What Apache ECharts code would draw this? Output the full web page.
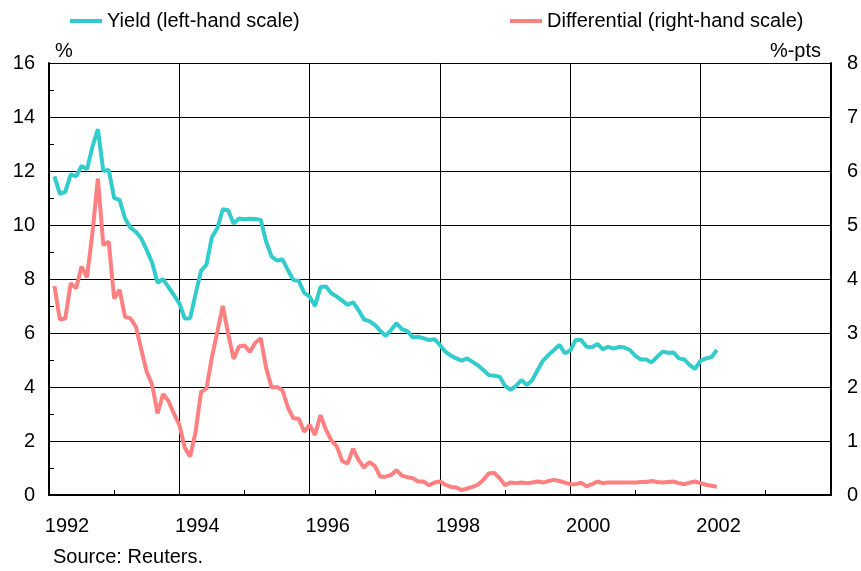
<!DOCTYPE html>
<html>
<head>
<meta charset="utf-8">
<script src="https://cdn.jsdelivr.net/npm/echarts@6/dist/echarts.min.js"></script>
<style>
html,body{margin:0;padding:0;background:#fff;}
#chart{width:861px;height:571px;}
</style>
</head>
<body>
<div id="chart"></div>
<script>
// Monthly (end-of-month) observations, Jan 1992 .. Mar 2002
const startYear = 1992;
const startMonth = 1;
const yieldValues = [
  11.8, 11.15, 11.23, 11.88, 11.8, 12.19, 12.06, 12.9, 13.55, 12.0, 12.04, 11.0,
  10.93, 10.25, 9.9, 9.75, 9.5, 9.07, 8.6, 7.86, 8.0, 7.7, 7.4, 7.1,
  6.54, 6.55, 7.45, 8.3, 8.53, 9.55, 9.88, 10.58, 10.55, 10.05, 10.24, 10.21,
  10.23, 10.22, 10.19, 9.38, 8.83, 8.68, 8.73, 8.33, 7.96, 7.93, 7.49, 7.35,
  7.0, 7.7, 7.72, 7.47, 7.35, 7.2, 7.04, 7.14, 6.85, 6.5, 6.44, 6.3,
  6.09, 5.89, 6.11, 6.36, 6.14, 6.07, 5.84, 5.86, 5.8, 5.74, 5.77, 5.56,
  5.31, 5.16, 5.06, 4.98, 5.06, 4.93, 4.8, 4.63, 4.44, 4.42, 4.38, 4.04,
  3.89, 4.04, 4.26, 4.07, 4.26, 4.63, 4.98, 5.19, 5.37, 5.56, 5.25, 5.35,
  5.74, 5.74, 5.49, 5.47, 5.59, 5.4, 5.49, 5.42, 5.49, 5.46, 5.37, 5.15,
  5.02, 5.02, 4.91, 5.12, 5.31, 5.27, 5.28, 5.06, 5.02, 4.81, 4.67, 4.98,
  5.06, 5.1, 5.37
];
const diffValues = [
  3.87, 3.25, 3.27, 3.92, 3.83, 4.23, 4.03, 4.85, 5.86, 4.63, 4.69, 3.64,
  3.8, 3.3, 3.27, 3.12, 2.69, 2.28, 2.04, 1.51, 1.87, 1.74, 1.51, 1.3,
  0.88, 0.71, 1.17, 1.91, 1.97, 2.55, 3.02, 3.5, 2.99, 2.52, 2.75, 2.77,
  2.65, 2.82, 2.9, 2.35, 1.99, 2.0, 1.94, 1.62, 1.42, 1.41, 1.17, 1.3,
  1.11, 1.48, 1.21, 1.01, 0.9, 0.63, 0.58, 0.86, 0.65, 0.51, 0.61, 0.54,
  0.34, 0.34, 0.37, 0.46, 0.36, 0.33, 0.31, 0.25, 0.25, 0.18, 0.23, 0.25,
  0.19, 0.15, 0.14, 0.09, 0.12, 0.15, 0.19, 0.28, 0.4, 0.41, 0.31, 0.18,
  0.23, 0.22, 0.23, 0.22, 0.23, 0.25, 0.23, 0.26, 0.28, 0.26, 0.23, 0.2,
  0.2, 0.23, 0.16, 0.2, 0.25, 0.22, 0.23, 0.23, 0.23, 0.23, 0.23, 0.23,
  0.24, 0.24, 0.26, 0.24, 0.23, 0.24, 0.25, 0.22, 0.2, 0.23, 0.25, 0.22,
  0.19, 0.17, 0.15
];
const xTickLabels = ['1992', '1994', '1996', '1998', '2000', '2002'];
const leftTicks = [0, 2, 4, 6, 8, 10, 12, 14, 16];
const rightTicks = [0, 1, 2, 3, 4, 5, 6, 7, 8];
const seriesNames = ['Yield (left-hand scale)', 'Differential (right-hand scale)'];

// x position of each observation: end of its month, in decimal years
const xPos = yieldValues.map((_, k) => startYear + (startMonth - 1 + k + 1) / 12);
const yieldData = yieldValues.map((v, k) => [xPos[k], v]);
const diffData = diffValues.map((v, k) => [xPos[k], v]);

const FONT = '"Liberation Sans", Arial, sans-serif';
const chart = echarts.init(document.getElementById('chart'), null, {renderer: 'canvas'});
chart.setOption({
  animation: false,
  backgroundColor: '#fff',
  textStyle: {fontFamily: FONT, color: '#000'},
  grid: {left: 49, right: 30, top: 63, bottom: 76, containLabel: false},
  legend: [
    {data: [seriesNames[0]], left: 65, top: 6, icon: 'rect', itemWidth: 32, itemHeight: 4,
     textStyle: {fontSize: 20, fontFamily: FONT, color: '#000'}},
    {data: [seriesNames[1]], left: 505, top: 6, icon: 'rect', itemWidth: 32, itemHeight: 4,
     textStyle: {fontSize: 20, fontFamily: FONT, color: '#000'}}
  ],
  xAxis: {
    type: 'value', min: 1992, max: 2004, interval: 2,
    axisLine: {show: true, onZero: false, lineStyle: {color: '#000', width: 2}},
    axisTick: {show: true, inside: true, length: 5, lineStyle: {color: '#000'}},
    minorTick: {show: true, splitNumber: 2, length: 5, lineStyle: {color: '#000'}},
    splitLine: {show: true, lineStyle: {color: '#000', width: 1}},
    axisLabel: {
      fontSize: 20, fontFamily: FONT, color: '#000', margin: 21, padding: [0, 0, 0, 36],
      formatter: v => xTickLabels.includes(String(v)) ? String(v) : ''
    }
  },
  yAxis: [
    {
      type: 'value', position: 'left', min: 0, max: 16, interval: 2,
      axisLine: {show: true, lineStyle: {color: '#000', width: 2}},
      axisTick: {show: true, inside: true, length: 5, lineStyle: {color: '#000'}},
      minorTick: {show: true, splitNumber: 2, length: 5, lineStyle: {color: '#000'}},
      splitLine: {show: true, lineStyle: {color: '#000', width: 1}},
      axisLabel: {fontSize: 20, fontFamily: FONT, color: '#000', margin: 14,
        formatter: v => leftTicks.includes(v) ? String(v) : ''}
    },
    {
      type: 'value', position: 'right', min: 0, max: 8, interval: 1,
      axisLine: {show: true, lineStyle: {color: '#000', width: 2}},
      axisTick: {show: true, inside: true, length: 5, lineStyle: {color: '#000'}},
      splitLine: {show: false},
      axisLabel: {fontSize: 20, fontFamily: FONT, color: '#000', margin: 16,
        formatter: v => rightTicks.includes(v) ? String(v) : ''}
    }
  ],
  graphic: [
    {type: 'text', left: 55, top: 41, style: {text: '%', font: '20px ' + FONT, fill: '#000'}},
    {type: 'text', right: 40, top: 41, style: {text: '%-pts', font: '20px ' + FONT, fill: '#000'}},
    {type: 'text', left: 53, top: 547, style: {text: 'Source: Reuters.', font: '20px ' + FONT, fill: '#000'}}
  ],
  series: [
    {name: seriesNames[0], type: 'line', yAxisIndex: 0, data: yieldData, showSymbol: false,
     color: '#33CCCC', lineStyle: {color: '#33CCCC', width: 4}, z: 3},
    {name: seriesNames[1], type: 'line', yAxisIndex: 1, data: diffData, showSymbol: false,
     color: '#FF8080', lineStyle: {color: '#FF8080', width: 4}, z: 4}
  ]
});
</script>
</body>
</html>
